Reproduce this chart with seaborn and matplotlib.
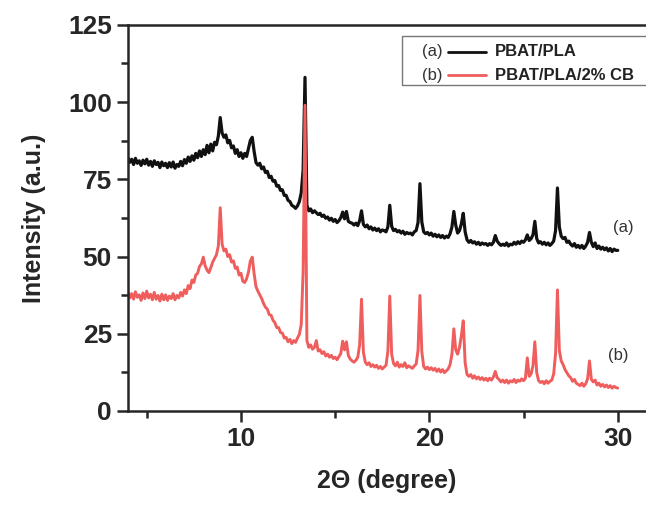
import numpy as np
import pandas as pd
import seaborn as sns
import matplotlib.pyplot as plt
from matplotlib.patches import Rectangle

# 2-theta grid, 4.0 .. 30.0 in 0.1 steps (261 points)
two_theta = np.round(np.arange(4.0, 30.05, 0.1), 1)

# (a) PBAT/PLA, one row per degree
intensity_a = [
    82, 80.5, 81.5, 79.8, 81.8, 80.2, 81, 79.5, 81.2, 80,
    81.5, 79.6, 80.8, 79.2, 81, 79.8, 80.5, 78.8, 80.6, 79.4,
    80.2, 78.8, 80.4, 79, 80.6, 78.6, 79.8, 79.2, 80.8, 79.4,
    81.4, 80.2, 82.2, 80.8, 82.6, 81.2, 83.4, 82, 84.2, 82.4,
    84.6, 83, 86, 83.6, 86.4, 84.2, 87, 86.2, 89, 95,
    90, 88.6, 89.4, 86.8, 87.6, 85.2, 85.8, 83.4, 84.6, 82.4,
    83.6, 81.8, 83.4, 82.4, 85, 87.6, 88.6, 84, 80.4, 79.6,
    80.2, 78.4, 79, 77.2, 77.6, 75.6, 76, 74.4, 74.6, 72.8,
    73, 71.4, 71.6, 69.8, 69.8, 68.2, 67.8, 66.6, 66.2, 65.6,
    66.4, 67.8, 70.6, 78, 108, 66.6, 64.8, 65.4, 64.2, 64.8,
    64.2, 63.6, 64, 63, 63.4, 62.4, 62.8, 61.8, 62.4, 61.4,
    62, 61, 61.6, 62.6, 64.4, 62.2, 64.6, 61.4, 61, 60.8,
    60.2, 60.8, 60, 61.6, 64.8, 60.4, 59.6, 60.2, 59, 59.6,
    58.6, 59.2, 58.4, 59, 58, 58.6, 58.4, 58, 59.6, 66.6,
    59.8, 58.4, 58.8, 58, 58.4, 57.6, 58.2, 57.2, 57.8, 57.4,
    57.6, 57, 58, 58.4, 61, 73.6, 61.2, 58, 57.4, 57.8,
    57, 57.6, 56.6, 57.2, 56.4, 57, 56.2, 56.8, 56, 56.6,
    56.2, 57.4, 59.6, 64.6, 60.2, 57.6, 58.4, 60.6, 64, 58,
    55.4, 54.6, 55.2, 54.4, 54.8, 54, 54.6, 53.8, 54.4, 54,
    54.2, 53.6, 54.2, 53.8, 54.6, 56.8, 55, 54.2, 53.6, 54,
    53.6, 54.4, 53.4, 54, 53.8, 54.6, 54, 54.8, 54.2, 55,
    54.6, 55.4, 57, 55.2, 55.8, 57, 61.4, 55.8, 54.4, 54.8,
    54, 54.6, 53.8, 54.4, 53.6, 54.2, 55, 58.4, 72.2, 59.6,
    56.6, 55.8, 56.2, 54.6, 55, 54, 53.4, 54.2, 53, 53.6,
    52.8, 53.6, 52.6, 53.4, 54.6, 57.8, 54.6, 53.2, 54.4, 52.6,
    53.4, 52.4, 53, 52.2, 52.8, 51.8, 52.6, 51.6, 52.4, 52,
    52,
]

# (b) PBAT/PLA/2% CB
intensity_b = [
    38.4, 36.6, 38, 36.2, 38.6, 36.8, 37.6, 35.8, 38.2, 36.4,
    38.8, 36.6, 37.8, 36, 38.4, 36.2, 37.4, 35.6, 37.8, 36,
    37.6, 35.8, 37.2, 36.4, 38, 36, 37.4, 36.6, 38.4, 37.2,
    39.2, 38, 40.6, 39.6, 42.4, 41.6, 44, 44.6, 46.8, 47.6,
    49.8, 47, 45.6, 44.8, 46.4, 48.2, 49.4, 50.6, 53.4, 65.8,
    54, 51.8, 52.4, 50, 50.6, 48.2, 48.6, 46.2, 46.6, 44,
    44.6, 42, 41.6, 42.8, 45, 48.6, 49.8, 44.4, 40.2, 38.8,
    37.6, 36.4, 34.8, 33.6, 33, 31.2, 31, 29.4, 28.6, 27,
    27, 25.4, 25.2, 23.6, 23.8, 22.4, 23.2, 21.8, 22.8, 22.2,
    23.6, 24.8, 28, 45, 99, 22.8, 20.6, 21.4, 20, 20.6,
    22.8, 19.4, 19.8, 18.6, 19.2, 17.8, 18.4, 17.4, 18, 17,
    17.4, 16.6, 17.6, 18.6, 22.6, 19.8, 22.4, 18, 16.8, 16.2,
    15.8, 16.4, 17.4, 21.4, 36.2, 19, 15.8, 15, 15.6, 14.4,
    15, 14.2, 14.8, 13.8, 14.4, 13.6, 14.2, 14.8, 19.4, 37.2,
    18.4, 15.4, 14.6, 15.8, 14.2, 15, 14.4, 15.6, 14, 14.6,
    14.2, 13.8, 14.6, 15.2, 19.6, 37.4, 19.2, 14.4, 13.6, 14.2,
    13.4, 14, 13.2, 13.8, 12.8, 13.6, 12.6, 13.4, 12.4, 13,
    13.6, 15, 18.4, 26.6, 19.8, 18.4, 20.6, 24.4, 29.2, 15.6,
    11.8, 11.2, 11.8, 10.6, 11.4, 10.4, 11, 10.2, 10.8, 10,
    10.6, 9.8, 10.6, 10, 11, 12.8, 10.8, 10.2, 9.4, 10,
    9.2, 10, 9, 9.8, 9.4, 10.2, 9.2, 10, 9.6, 10.4,
    9.8, 10.6, 17.2, 11.2, 12, 14.6, 22.4, 12.4, 9.8, 9.2,
    9.6, 8.8, 9.8, 9, 9.6, 10, 12, 18.6, 39.2, 19.6,
    16.2, 15, 13.4, 12.4, 11.4, 10.8, 9.6, 10.2, 9, 8.6,
    8.2, 9, 8, 8.8, 10.4, 16.2, 10.2, 9.4, 10, 8.4,
    9, 8, 8.6, 7.8, 8.4, 7.6, 8.2, 7.4, 8, 7.6,
    7.4,
]

labels = ["PBAT/PLA", "PBAT/PLA/2% CB"]
tags = ["(a)", "(b)"]
colors = ["#111111", "#ef5d5d"]

df = pd.DataFrame({"two_theta": two_theta, "a": intensity_a, "b": intensity_b})

sns.set_style("ticks")
plt.rcParams["font.family"] = ["Liberation Sans", "DejaVu Sans"]

fig = plt.figure(figsize=(6.46, 5.08), dpi=100)
ax = fig.add_axes([0.198, 0.191, 0.802, 0.760])

sns.lineplot(data=df, x="two_theta", y="a", color=colors[0], lw=2.3, ax=ax)
sns.lineplot(data=df, x="two_theta", y="b", color=colors[1], lw=2.1, ax=ax)

ax.set_xlim(4, 31.5)
ax.set_ylim(0, 125)
ax.set_xticks([10, 20, 30])
ax.set_xticks([5, 15, 25], minor=True)
ax.set_yticks([0, 25, 50, 75, 100, 125])
ax.set_yticks([12.5, 37.5, 62.5, 87.5, 112.5], minor=True)
ax.tick_params(which="major", length=8, width=1.8, labelsize=19, direction="out")
ax.tick_params(which="minor", length=5, width=1.8, direction="out")
for lab in ax.get_xticklabels() + ax.get_yticklabels():
    lab.set_fontweight("bold")

for side in ["left", "bottom", "top"]:
    ax.spines[side].set_linewidth(1.8)
ax.spines["right"].set_visible(False)

ax.set_xlabel("2\u0398 (degree)", fontsize=18, fontweight="bold", labelpad=13)
ax.set_ylabel("Intensity (a.u.)", fontsize=18, fontweight="bold", labelpad=16)

# curve tags
ax.text(29.75, 59.3, tags[0], fontsize=12, color="#333333", va="center")
ax.text(29.5, 18.1, tags[1], fontsize=12, color="#333333", va="center")

# legend box
ax.add_patch(Rectangle((0.529, 0.845), 0.5, 0.127, transform=ax.transAxes,
                       fill=False, edgecolor="#777777", lw=1.0, clip_on=False))
for i, yy in enumerate([0.930, 0.870]):
    ax.text(0.567, yy, tags[i], transform=ax.transAxes, fontsize=12,
            color="#333333", va="center")
    ax.plot([0.618, 0.692], [yy, yy], transform=ax.transAxes,
            color=colors[i], lw=2.0)
    ax.text(0.709, yy, labels[i], transform=ax.transAxes, fontsize=12,
            fontweight="bold", color="#222222", va="center")

fig.savefig("out.png", dpi=100)
